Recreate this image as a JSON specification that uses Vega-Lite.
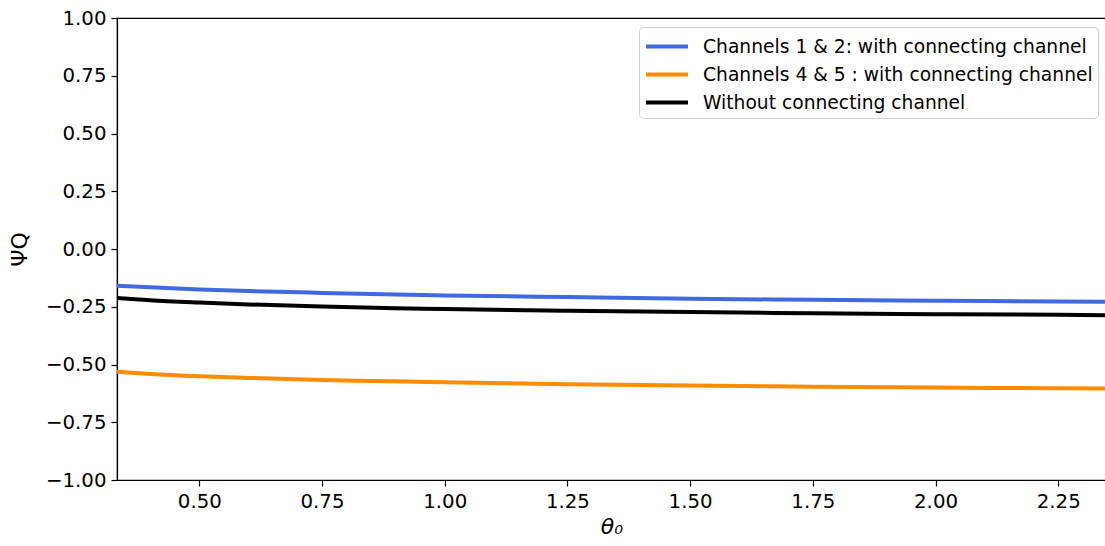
{
  "$schema": "https://vega.github.io/schema/vega-lite/v6.json",
  "autosize": "none",
  "padding": {"left": 117, "top": 18, "right": 0, "bottom": 66},
  "width": 989,
  "height": 462,
  "config": {
    "font": "DejaVu Sans",
    "view": {"stroke": "black", "strokeWidth": 1.2},
    "axis": {
      "labelFont": "DejaVu Sans",
      "labelFontSize": 19.8,
      "labelColor": "black",
      "domainColor": "black",
      "domainWidth": 1.2,
      "tickColor": "black",
      "tickSize": 6,
      "tickWidth": 1.2,
      "labelPadding": 5,
      "grid": false,
      "titleFont": "DejaVu Sans",
      "titleFontWeight": "normal",
      "titleColor": "black",
      "titleFontSize": 22
    }
  },
  "data": {
    "values": [
      {"theta": 0.332, "psi": -0.159, "series": "Channels 1 & 2: with connecting channel"},
      {"theta": 0.4, "psi": -0.166, "series": "Channels 1 & 2: with connecting channel"},
      {"theta": 0.5, "psi": -0.175, "series": "Channels 1 & 2: with connecting channel"},
      {"theta": 0.6, "psi": -0.182, "series": "Channels 1 & 2: with connecting channel"},
      {"theta": 0.75, "psi": -0.19, "series": "Channels 1 & 2: with connecting channel"},
      {"theta": 0.9, "psi": -0.197, "series": "Channels 1 & 2: with connecting channel"},
      {"theta": 1.0, "psi": -0.201, "series": "Channels 1 & 2: with connecting channel"},
      {"theta": 1.25, "psi": -0.208, "series": "Channels 1 & 2: with connecting channel"},
      {"theta": 1.5, "psi": -0.215, "series": "Channels 1 & 2: with connecting channel"},
      {"theta": 1.75, "psi": -0.22, "series": "Channels 1 & 2: with connecting channel"},
      {"theta": 2.0, "psi": -0.224, "series": "Channels 1 & 2: with connecting channel"},
      {"theta": 2.25, "psi": -0.227, "series": "Channels 1 & 2: with connecting channel"},
      {"theta": 2.356, "psi": -0.229, "series": "Channels 1 & 2: with connecting channel"},
      {"theta": 0.332, "psi": -0.531, "series": "Channels 4 & 5 : with connecting channel"},
      {"theta": 0.4, "psi": -0.541, "series": "Channels 4 & 5 : with connecting channel"},
      {"theta": 0.5, "psi": -0.551, "series": "Channels 4 & 5 : with connecting channel"},
      {"theta": 0.6, "psi": -0.558, "series": "Channels 4 & 5 : with connecting channel"},
      {"theta": 0.75, "psi": -0.567, "series": "Channels 4 & 5 : with connecting channel"},
      {"theta": 0.9, "psi": -0.573, "series": "Channels 4 & 5 : with connecting channel"},
      {"theta": 1.0, "psi": -0.577, "series": "Channels 4 & 5 : with connecting channel"},
      {"theta": 1.25, "psi": -0.585, "series": "Channels 4 & 5 : with connecting channel"},
      {"theta": 1.5, "psi": -0.591, "series": "Channels 4 & 5 : with connecting channel"},
      {"theta": 1.75, "psi": -0.596, "series": "Channels 4 & 5 : with connecting channel"},
      {"theta": 2.0, "psi": -0.6, "series": "Channels 4 & 5 : with connecting channel"},
      {"theta": 2.25, "psi": -0.603, "series": "Channels 4 & 5 : with connecting channel"},
      {"theta": 2.356, "psi": -0.604, "series": "Channels 4 & 5 : with connecting channel"},
      {"theta": 0.332, "psi": -0.212, "series": "Without connecting channel"},
      {"theta": 0.4, "psi": -0.222, "series": "Without connecting channel"},
      {"theta": 0.5, "psi": -0.232, "series": "Without connecting channel"},
      {"theta": 0.6, "psi": -0.24, "series": "Without connecting channel"},
      {"theta": 0.75, "psi": -0.249, "series": "Without connecting channel"},
      {"theta": 0.9, "psi": -0.256, "series": "Without connecting channel"},
      {"theta": 1.0, "psi": -0.26, "series": "Without connecting channel"},
      {"theta": 1.25, "psi": -0.267, "series": "Without connecting channel"},
      {"theta": 1.5, "psi": -0.273, "series": "Without connecting channel"},
      {"theta": 1.75, "psi": -0.278, "series": "Without connecting channel"},
      {"theta": 2.0, "psi": -0.282, "series": "Without connecting channel"},
      {"theta": 2.25, "psi": -0.285, "series": "Without connecting channel"},
      {"theta": 2.356, "psi": -0.287, "series": "Without connecting channel"}
    ]
  },
  "mark": {"type": "line", "strokeWidth": 4, "interpolate": "monotone", "clip": true},
  "encoding": {
    "x": {
      "field": "theta",
      "type": "quantitative",
      "scale": {"domain": [0.3323, 2.3473], "nice": false, "zero": false},
      "axis": {"values": [0.5, 0.75, 1.0, 1.25, 1.5, 1.75, 2.0, 2.25], "format": ".2f", "title": "θ₀", "titleFontStyle": "italic", "titlePadding": 6}
    },
    "y": {
      "field": "psi",
      "type": "quantitative",
      "scale": {"domain": [-1, 1], "nice": false, "zero": false},
      "axis": {"values": [-1, -0.75, -0.5, -0.25, 0, 0.25, 0.5, 0.75, 1], "format": ".2f", "title": "ΨQ", "titlePadding": 14}
    },
    "color": {
      "field": "series",
      "type": "nominal",
      "scale": {
        "domain": ["Channels 1 & 2: with connecting channel", "Channels 4 & 5 : with connecting channel", "Without connecting channel"],
        "range": ["#4169E1", "#FF8C00", "#000000"]
      },
      "legend": {
        "title": null,
        "orient": "none",
        "legendX": 522,
        "legendY": 9,
        "direction": "vertical",
        "symbolType": "M-1,0H2.36",
        "symbolSize": 625,
        "symbolStrokeWidth": 4,
        "labelFont": "DejaVu Sans",
        "labelFontSize": 18.7,
        "labelColor": "black",
        "labelOffset": 30,
        "labelLimit": 500,
        "rowPadding": 3,
        "padding": 5,
        "strokeColor": "#d0d0d0",
        "fillColor": "white",
        "cornerRadius": 4
      }
    }
  }
}
